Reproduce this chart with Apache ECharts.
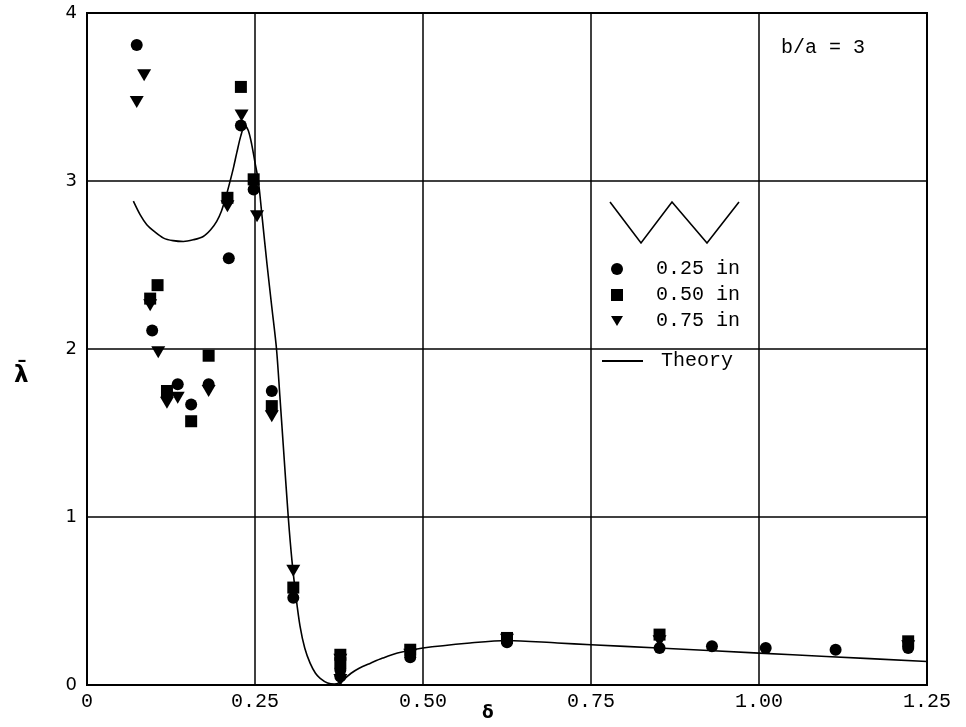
<!DOCTYPE html>
<html>
<head>
<meta charset="utf-8">
<script src="https://cdn.jsdelivr.net/npm/echarts@6/dist/echarts.min.js"></script>
<style>html,body{margin:0;padding:0;background:#fff}#c{width:966px;height:727px}</style>
</head>
<body>
<div id="c"></div>
<script>
var xTickLabels = ['0', '0.25', '0.50', '0.75', '1.00', '1.25'];
var yTickLabels = ['0', '1', '2', '3', '4'];

var circles025 = [
  [0.074, 3.81], [0.229, 3.33], [0.248, 2.95], [0.211, 2.54], [0.097, 2.11],
  [0.135, 1.79], [0.155, 1.67], [0.181, 1.79], [0.275, 1.75], [0.307, 0.52],
  [0.377, 0.09], [0.377, 0.05], [0.481, 0.165], [0.625, 0.255], [0.852, 0.22],
  [0.93, 0.23], [1.01, 0.22], [1.114, 0.21], [1.222, 0.22]
];
var squares050 = [
  [0.229, 3.56], [0.248, 3.01], [0.105, 2.38], [0.094, 2.30], [0.181, 1.96],
  [0.119, 1.75], [0.155, 1.57], [0.209, 2.90], [0.275, 1.66], [0.307, 0.58],
  [0.377, 0.18], [0.377, 0.13], [0.481, 0.21], [0.625, 0.28], [0.852, 0.30],
  [1.222, 0.26]
];
var triangles075 = [
  [0.085, 3.63], [0.074, 3.47], [0.23, 3.39], [0.209, 2.85], [0.253, 2.79],
  [0.094, 2.26], [0.106, 1.98], [0.119, 1.68], [0.135, 1.71], [0.181, 1.75],
  [0.275, 1.60], [0.307, 0.68], [0.377, 0.15], [0.377, 0.03], [0.481, 0.18],
  [0.625, 0.27], [0.852, 0.26], [1.222, 0.23]
];
var theory = [
  [0.069, 2.88], [0.079, 2.80], [0.089, 2.74], [0.10, 2.70], [0.114, 2.66],
  [0.128, 2.645], [0.1435, 2.64], [0.158, 2.65], [0.173, 2.67], [0.184, 2.71],
  [0.193, 2.76], [0.200, 2.82], [0.207, 2.91], [0.213, 3.0], [0.218, 3.08],
  [0.223, 3.17], [0.229, 3.27], [0.235, 3.33], [0.240, 3.30], [0.245, 3.22],
  [0.250, 3.11], [0.255, 3.0], [0.261, 2.77], [0.268, 2.50], [0.275, 2.25],
  [0.282, 2.0], [0.287, 1.72], [0.292, 1.43], [0.2995, 1.0], [0.305, 0.74],
  [0.311, 0.525], [0.317, 0.35], [0.324, 0.22], [0.332, 0.13], [0.34, 0.07],
  [0.347, 0.04], [0.358, 0.012], [0.368, 0.005], [0.376, 0.015], [0.384, 0.04],
  [0.393, 0.07], [0.405, 0.10], [0.422, 0.13], [0.44, 0.16], [0.462, 0.19],
  [0.50, 0.22], [0.57, 0.25], [0.625, 0.265], [0.70, 0.25], [0.75, 0.24],
  [0.85, 0.22], [1.0, 0.19], [1.1, 0.17], [1.25, 0.14]
];

var chart = echarts.init(document.getElementById('c'), null, {renderer: 'canvas'});
var black = '#000';
var triPath = 'path://M0,0 L12,0 L6,10 Z';

chart.setOption({
  animation: false,
  backgroundColor: '#fff',
  grid: {left: 87, right: 39, top: 13, bottom: 42, show: true, borderColor: black, borderWidth: 2, backgroundColor: 'transparent'},
  xAxis: {
    type: 'value', min: 0, max: 1.25, interval: 0.25,
    axisLine: {show: true, lineStyle: {color: black, width: 2}},
    axisTick: {show: false},
    splitLine: {show: true, lineStyle: {color: black, width: 1.5}},
    axisLabel: {
      color: black, fontFamily: 'Liberation Mono', fontSize: 20, margin: 7,
      formatter: function (v) { return xTickLabels[Math.round(v / 0.25)]; }
    }
  },
  yAxis: {
    type: 'value', min: 0, max: 4, interval: 1,
    axisLine: {show: true, lineStyle: {color: black, width: 2}},
    axisTick: {show: false},
    splitLine: {show: true, lineStyle: {color: black, width: 1.5}},
    axisLabel: {
      color: black, fontFamily: 'DejaVu Sans', fontSize: 18, margin: 10,
      formatter: function (v) { return yTickLabels[Math.round(v)]; }
    }
  },
  legend: [
    {
      orient: 'vertical', left: 606, top: 254, itemWidth: 12, itemHeight: 12, itemGap: 6,
      textStyle: {color: black, fontFamily: 'Liberation Mono', fontSize: 20, lineHeight: 20, padding: [0, 0, 0, 28]},
      data: [
        {name: '0.25 in', icon: 'circle'},
        {name: '0.50 in', icon: 'rect'},
        {name: '0.75 in', icon: triPath}
      ]
    },
    {
      orient: 'vertical', left: 597, top: 346, itemWidth: 41, itemHeight: 2,
      textStyle: {color: black, fontFamily: 'Liberation Mono', fontSize: 20, lineHeight: 20, padding: [0, 0, 0, 13]},
      data: [{name: 'Theory', icon: 'rect'}]
    }
  ],
  graphic: [
    {
      type: 'polyline', silent: true,
      shape: {points: [[610, 202], [641, 243], [672, 202], [707, 243], [739, 202]]},
      style: {stroke: black, lineWidth: 1.6, fill: null}
    },
    {
      type: 'text', left: 781, top: 38, silent: true,
      style: {text: 'b/a = 3', fill: black, font: '20px "Liberation Mono"'}
    },
    {
      type: 'text', left: 14, top: 365, silent: true,
      style: {text: 'λ\u0304', fill: black, font: 'bold 23px "DejaVu Sans"'}
    },
    {
      type: 'text', left: 482, top: 705, silent: true,
      style: {text: 'δ', fill: black, font: 'bold 17px "DejaVu Sans"'}
    }
  ],
  series: [
    {
      name: 'Theory', type: 'line', data: theory, smooth: 0.3, symbol: 'none',
      lineStyle: {color: black, width: 1.6}, itemStyle: {color: black}, z: 2
    },
    {
      name: '0.25 in', type: 'scatter', data: circles025, symbol: 'circle', symbolSize: 12,
      itemStyle: {color: black, opacity: 1}, z: 3
    },
    {
      name: '0.50 in', type: 'scatter', data: squares050, symbol: 'rect', symbolSize: 12,
      itemStyle: {color: black, opacity: 1}, z: 3
    },
    {
      name: '0.75 in', type: 'scatter', data: triangles075, symbol: 'triangle', symbolRotate: 180,
      symbolSize: [14, 12], itemStyle: {color: black, opacity: 1}, z: 3
    }
  ]
});
</script>
</body>
</html>
